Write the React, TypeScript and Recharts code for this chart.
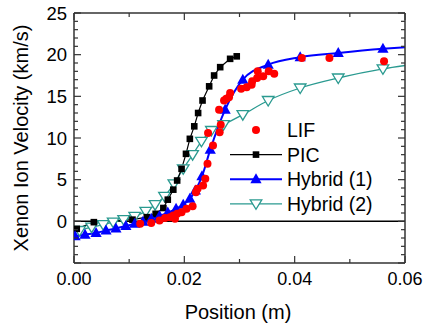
import React from 'react';
import { ComposedChart, Line, Scatter, XAxis, YAxis, ReferenceLine } from 'recharts';

// position (m), velocity (km/s)
const lif: [number, number][] = [
  [0.012, -0.3], [0.014, -0.2], [0.0155, 0.1], [0.0165, 0.4], [0.0174, 0.5],
  [0.018, 0.7], [0.0183, 0.3], [0.0187, 0.9], [0.0195, 1.1], [0.0204, 1.5],
  [0.0215, 1.8], [0.0221, 3.5], [0.0224, 3.9], [0.0234, 4.3], [0.0238, 5.1],
  [0.0242, 6.9], [0.0252, 9.1], [0.0243, 10.6], [0.0264, 10.7], [0.0266, 11.6],
  [0.0263, 13.4], [0.0272, 14.5], [0.0276, 14.7], [0.0281, 14.9], [0.0283, 15.4],
  [0.0303, 15.9], [0.0313, 16.1], [0.0322, 16.4], [0.0323, 16.8], [0.0332, 17.2],
  [0.0333, 18.0], [0.0343, 17.4], [0.0353, 18.0], [0.0363, 17.7], [0.0413, 19.6],
  [0.0463, 19.6], [0.0562, 19.2],
];

const pic: [number, number][] = [
  [0.0005, -0.9], [0.0036, -0.1], [0.0106, 0.2], [0.0132, 0.5], [0.0148, 0.9],
  [0.0162, 1.6], [0.017, 2.6], [0.018, 3.8], [0.0187, 4.9], [0.0195, 6.3],
  [0.0203, 8.1], [0.021, 9.9], [0.0218, 11.4], [0.0225, 13.0], [0.0233, 14.5],
  [0.0245, 16.2], [0.0254, 17.5], [0.0265, 18.5], [0.0283, 19.5], [0.0295, 19.8],
];

const hybrid1: [number, number][] = [
  [0.0002, -1.8], [0.002, -1.6], [0.004, -1.4], [0.0058, -1.1], [0.0076, -0.85],
  [0.0094, -0.55], [0.011, -0.3], [0.0125, -0.05], [0.014, 0.3], [0.0155, 0.65],
  [0.017, 1.05], [0.0185, 1.5], [0.0198, 2.0], [0.021, 2.7], [0.022, 3.7],
  [0.0232, 5.4], [0.0247, 8.6], [0.0274, 13.4], [0.0306, 17.0], [0.0352, 18.8],
  [0.041, 19.7], [0.0479, 20.2], [0.056, 20.7], [0.06, 20.9],
];

const hybrid2: [number, number][] = [
  [0.001, -1.1], [0.0032, -0.7], [0.0053, -0.4], [0.0071, -0.1], [0.009, 0.2],
  [0.011, 0.6], [0.013, 1.2], [0.0147, 2.0], [0.0164, 3.0], [0.0181, 4.5],
  [0.0198, 6.3], [0.0215, 8.0], [0.0231, 9.6], [0.0249, 10.9], [0.0271, 11.6],
  [0.0306, 12.8], [0.0352, 14.5], [0.041, 16.0], [0.0479, 17.2], [0.056, 18.3],
  [0.06, 18.7],
];

const xTicks = [0, 0.01, 0.02, 0.03, 0.04, 0.05, 0.06];
const yTicks = [
  -5, -4, -3, -2, -1, 0, 1, 2, 3, 4, 5, 6, 7, 8, 9, 10, 11, 12, 13, 14, 15,
  16, 17, 18, 19, 20, 21, 22, 23, 24, 25,
];
const yLabels = [0, 5, 10, 15, 20, 25];
const seriesNames = ['LIF', 'PIC', 'Hybrid (1)', 'Hybrid (2)'];

const FONT = '"Liberation Sans", Arial, Helvetica, sans-serif';
const AXIS = '#333';
const RED = '#ff0000';
const BLUE = '#0000ff';
const TEAL = '#2a9a90';

const rows = (d: [number, number][]) => d.map(([x, y]) => ({ x, y }));

const isMajorX = (v: number) => Math.round(v * 100) % 2 === 0;
const isMajorY = (v: number) => v % 5 === 0;

const LeftTick = ({ x, y, payload }: any) => {
  const major = isMajorY(payload.value);
  return (
    <g>
      <line x1={x} y1={y} x2={x + (major ? 7 : 4)} y2={y} stroke={AXIS} strokeWidth={1.2} />
      {yLabels.includes(payload.value) && (
        <text x={x - 7} y={y + 6.5} textAnchor="end" fontSize={18.5} fontFamily={FONT} fill="#000">
          {payload.value}
        </text>
      )}
    </g>
  );
};

const RightTick = ({ x, y, payload }: any) => (
  <line x1={x} y1={y} x2={x - (isMajorY(payload.value) ? 7 : 4)} y2={y} stroke={AXIS} strokeWidth={1.2} />
);

const BottomTick = ({ x, y, payload }: any) => {
  const major = isMajorX(payload.value);
  return (
    <g>
      <line x1={x} y1={y} x2={x} y2={y - (major ? 7 : 4)} stroke={AXIS} strokeWidth={1.2} />
      {major && (
        <text x={x} y={y + 22} textAnchor="middle" fontSize={18} fontFamily={FONT} fill="#000">
          {payload.value.toFixed(2)}
        </text>
      )}
    </g>
  );
};

const TopTick = ({ x, y, payload }: any) => (
  <line x1={x} y1={y} x2={x} y2={y + (isMajorX(payload.value) ? 7 : 4)} stroke={AXIS} strokeWidth={1.2} />
);

const square = (cx: number, cy: number, key?: any) => (
  <rect key={key} x={cx - 3.3} y={cy - 3.3} width={6.6} height={6.6} fill="#000" />
);
const triUp = (cx: number, cy: number, key?: any) => (
  <path key={key} d={`M${cx},${cy - 6} L${cx + 5.6},${cy + 4} L${cx - 5.6},${cy + 4} Z`} fill={BLUE} />
);
const triDown = (cx: number, cy: number, key?: any) => (
  <path
    key={key}
    d={`M${cx - 5.8},${cy - 4} L${cx + 5.8},${cy - 4} L${cx},${cy + 5.5} Z`}
    fill="#fff"
    stroke={TEAL}
    strokeWidth={1.3}
  />
);

// the last point of the hybrid curves only carries the line to the frame
const markerDot = (draw: typeof square) => (p: any) =>
  p.payload.x >= 0.06 ? <g key={p.index} /> : draw(p.cx, p.cy, p.index);

const XTitle = () => (
  <text x={238} y={319} textAnchor="middle" fontSize={20} fontFamily={FONT} fill="#000">
    Position (m)
  </text>
);

const YTitle = () => (
  <text
    x={28}
    y={138}
    transform="rotate(-90, 28, 138)"
    textAnchor="middle"
    fontSize={20}
    fontFamily={FONT}
    fill="#000"
  >
    Xenon Ion Velocity (km/s)
  </text>
);

const LegendBox = () => {
  const top = 130;
  const step = 24.6;
  return (
    <svg
      width={423}
      height={328}
      style={{ position: 'absolute', left: 0, top: 0, pointerEvents: 'none' }}
    >
      {seriesNames.map((name, i) => {
        const y = top + i * step;
        return (
          <g key={name}>
            {i > 0 && (
              <line
                x1={230}
                x2={282}
                y1={y}
                y2={y}
                stroke={i === 1 ? '#000' : i === 2 ? BLUE : TEAL}
                strokeWidth={i === 2 ? 2 : 1.3}
              />
            )}
            {i === 0 && <circle cx={256} cy={y} r={4} fill={RED} />}
            {i === 1 && square(256, y)}
            {i === 2 && triUp(256, y)}
            {i === 3 && triDown(256, y)}
            <text x={287} y={y + 7} fontSize={19.5} fontFamily={FONT} fill="#000">
              {name}
            </text>
          </g>
        );
      })}
    </svg>
  );
};

export default function App() {
  return (
    <div style={{ position: 'absolute', left: 0, top: 0, width: 423, height: 328, background: '#fff' }}>
      <ComposedChart width={423} height={328} margin={{ top: 12, right: 17, bottom: 0, left: 0 }}>
        <XAxis
          dataKey="x"
          type="number"
          domain={[0, 0.06]}
          ticks={xTicks}
          interval={0}
          allowDataOverflow
          height={65}
          tickSize={0}
          tickMargin={0}
          tickLine={false}
          axisLine={{ stroke: AXIS, strokeWidth: 1.5 }}
          tick={(p: any) => <BottomTick {...p} />}
          label={() => <XTitle />}
        />
        <XAxis
          xAxisId="top"
          orientation="top"
          dataKey="x"
          type="number"
          domain={[0, 0.06]}
          ticks={xTicks}
          interval={0}
          allowDataOverflow
          height={1}
          tickSize={0}
          tickMargin={0}
          tickLine={false}
          axisLine={{ stroke: AXIS, strokeWidth: 1.5 }}
          tick={(p: any) => <TopTick {...p} />}
        />
        <YAxis
          dataKey="y"
          type="number"
          domain={[-5, 25]}
          ticks={yTicks}
          interval={0}
          allowDataOverflow
          width={74}
          tickSize={0}
          tickMargin={0}
          tickLine={false}
          axisLine={{ stroke: AXIS, strokeWidth: 1.5 }}
          tick={(p: any) => <LeftTick {...p} />}
          label={() => <YTitle />}
        />
        <YAxis
          yAxisId="right"
          orientation="right"
          dataKey="y"
          type="number"
          domain={[-5, 25]}
          ticks={yTicks}
          interval={0}
          allowDataOverflow
          width={1}
          tickSize={0}
          tickMargin={0}
          tickLine={false}
          axisLine={{ stroke: AXIS, strokeWidth: 1.5 }}
          tick={(p: any) => <RightTick {...p} />}
        />
        <ReferenceLine y={0} stroke="#000" strokeWidth={1.5} />
        <Line
          data={rows(hybrid2)}
          dataKey="y"
          type="monotone"
          stroke={TEAL}
          strokeWidth={1.3}
          dot={markerDot(triDown)}
          activeDot={false}
          isAnimationActive={false}
        />
        <Line
          data={rows(pic)}
          dataKey="y"
          type="linear"
          stroke="#000"
          strokeWidth={1.2}
          dot={markerDot(square)}
          activeDot={false}
          isAnimationActive={false}
        />
        <Line
          data={rows(hybrid1)}
          dataKey="y"
          type="monotone"
          stroke={BLUE}
          strokeWidth={2}
          dot={markerDot(triUp)}
          activeDot={false}
          isAnimationActive={false}
        />
        <Scatter
          data={rows(lif)}
          dataKey="y"
          fill={RED}
          shape={(p: any) => <circle cx={p.cx} cy={p.cy} r={4} fill={RED} />}
          isAnimationActive={false}
        />
      </ComposedChart>
      <LegendBox />
    </div>
  );
}
